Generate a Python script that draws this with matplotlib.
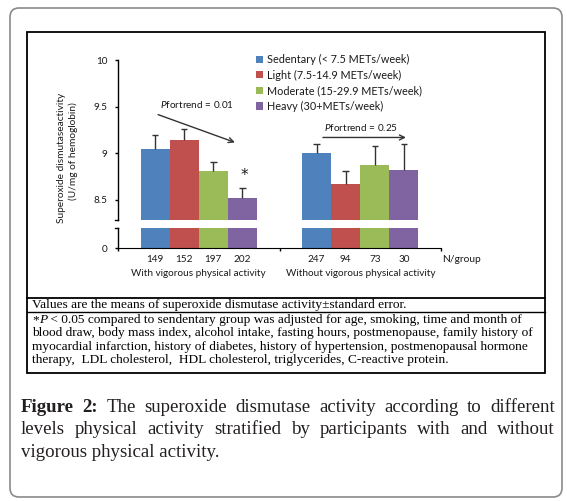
import matplotlib
matplotlib.use("Agg")
import matplotlib.pyplot as plt
from matplotlib.patches import FancyBboxPatch, Rectangle, Patch
import matplotlib.transforms as mtransforms

W, H, DPI = 567, 501, 100

# ---------------- data ----------------
groups = ["With vigorous physical activity", "Without vigorous physical activity"]
levels = ["Sedentary (< 7.5 METs/week)", "Light (7.5-14.9 METs/week)",
          "Moderate (15-29.9 METs/week)", "Heavy (30+METs/week)"]
colors = ["#4F81BD", "#C0504D", "#9BBB59", "#8064A2"]
means_with = [9.05, 9.14, 8.81, 8.52]
se_with = [0.15, 0.12, 0.10, 0.11]
means_without = [9.00, 8.67, 8.88, 8.82]
se_without = [0.10, 0.14, 0.20, 0.28]
n_with = [149, 152, 197, 202]
n_without = [247, 94, 73, 30]
yticks = [8.5, 9, 9.5, 10]
ytick_labels = ["8.5", "9", "9.5", "10"]
trend_p = ["0.01", "0.25"]
ylabel_lines = ["Superoxide dismutaseactivity", "(U/mg of hemoglobin)"]

note1 = "Values are the means of superoxide dismutase activity\u00b1standard error."
note2_lines = [
    "*P < 0.05 compared to sendentary group was adjusted for age, smoking, time and month of",
    "blood draw, body mass index, alcohol intake, fasting hours, postmenopause, family history of",
    "myocardial infarction, history of diabetes, history of hypertension, postmenopausal hormone",
    "therapy,  LDL cholesterol,  HDL cholesterol, triglycerides, C-reactive protein.",
]
caption_lines = [
    "Figure 2: The superoxide dismutase activity according to different",
    "levels physical activity stratified by participants with and without",
    "vigorous physical activity.",
]

CH_FONT = "Lato"
SERIF = "Liberation Serif"
TXT = "#1a1a1a"
plt.rcParams["mathtext.fontset"] = "custom"
plt.rcParams["mathtext.it"] = "Lato:italic"
plt.rcParams["mathtext.rm"] = "Lato"

fig = plt.figure(figsize=(W / DPI, H / DPI), dpi=DPI)
fig.patch.set_facecolor("white")

def fx(px):
    return px / W

def fy(py):
    return 1 - py / H

# background axes in pixel coordinates
bg = fig.add_axes([0, 0, 1, 1], zorder=-1)
bg.set_xlim(0, W)
bg.set_ylim(H, 0)
bg.axis("off")
bg.patch.set_visible(False)

bg.add_patch(FancyBboxPatch((10, 8), 552, 489, boxstyle="round,pad=0,rounding_size=9",
                            ec="#8a8a8a", fc="white", lw=1.2))
bg.add_patch(Rectangle((27, 32), 518, 341, fill=False, ec="black", lw=1.3))
bg.plot([27, 545], [298, 298], color="black", lw=1.3)
bg.plot([27, 545], [312, 312], color="black", lw=1.0)

# ---------------- chart axes ----------------
x0p, x1p = 118, 441
ax_up = fig.add_axes([fx(x0p), fy(220), (x1p - x0p) / W, (220 - 60) / H])
ax_lo = fig.add_axes([fx(x0p), fy(248), (x1p - x0p) / W, 20 / H])
for a in (ax_up, ax_lo):
    a.patch.set_visible(False)
    a.set_xlim(0, 2)
    for s in ("top", "right"):
        a.spines[s].set_visible(False)
    a.spines["left"].set_linewidth(1.0)
ax_up.spines["bottom"].set_visible(False)
ax_up.set_ylim(8.5 - 20 / 93.33, 10)
ax_lo.set_ylim(0, 1)

bw = 0.18
cap = 0.02
for g, (means, ses) in enumerate([(means_with, se_with), (means_without, se_without)]):
    for i, (m, s) in enumerate(zip(means, ses)):
        x = g + 0.5 + (i - 1.5) * bw
        for a in (ax_up, ax_lo):
            a.bar(x, m, bw, color=colors[i], lw=0)
        ax_up.vlines(x, m, m + s, color="#333333", lw=1.0, zorder=3)
        ax_up.hlines(m + s, x - cap, x + cap, color="#333333", lw=1.0, zorder=3)

# asterisk on heavy (with vigorous) group
xa = 0 + 0.5 + 1.5 * bw
ax_up.text(xa + 0.01, means_with[3] + se_with[3] + 0.13, "*", ha="center", va="center",
           fontsize=11, family="DejaVu Sans", color=TXT)

ax_up.set_xticks([])
ax_up.set_yticks(yticks)
ax_up.set_yticklabels(ytick_labels)
ax_up.tick_params(axis="y", direction="out", length=2.5, width=1, pad=5,
                  labelsize=7.2, labelcolor=TXT)
ax_lo.set_yticks([0])
ax_lo.set_yticklabels(["0"])
ax_lo.set_xticks([0, 1, 2])
ax_lo.set_xticklabels([])
ax_lo.tick_params(axis="y", direction="out", length=2.5, width=1, pad=5,
                  labelsize=7.2, labelcolor=TXT)
ax_lo.tick_params(axis="x", direction="out", length=2.5, width=1)
for lab in ax_up.get_yticklabels() + ax_lo.get_yticklabels():
    lab.set_family(CH_FONT)

# axis break hooks
hk = 3 / (x1p - x0p)
ax_up.plot([-hk, 0], [0, 0], transform=ax_up.transAxes, color="black", lw=1, clip_on=False)
ax_lo.plot([-hk, 0], [1, 1], transform=ax_lo.transAxes, color="black", lw=1, clip_on=False)

# N labels and group labels
tb = mtransforms.blended_transform_factory(ax_lo.transData, ax_lo.transAxes)
for g, ns in enumerate([n_with, n_without]):
    for i, n in enumerate(ns):
        x = g + 0.5 + (i - 1.5) * bw
        ax_lo.text(x, -0.55, str(n), transform=tb, ha="center", va="center",
                   fontsize=7.2, family=CH_FONT, color=TXT)
    ax_lo.text(g + 0.5, -1.25, groups[g], transform=tb, ha="center", va="center",
               fontsize=7.2, family=CH_FONT, color=TXT)
ax_lo.text(2.01, -0.55, "N/group", transform=tb, ha="left", va="center",
           fontsize=7.4, family=CH_FONT, color=TXT)

# trend arrows
arrow_kw = dict(arrowstyle="->", color="#333333", lw=1.0, shrinkA=0, shrinkB=0,
                mutation_scale=9)
ax_up.annotate("", xy=(0.724, 9.117), xytext=(0.248, 9.415), arrowprops=arrow_kw,
               annotation_clip=False)
ax_up.annotate("", xy=(1.783, 9.17), xytext=(1.269, 9.17), arrowprops=arrow_kw,
               annotation_clip=False)
ax_up.text(0.489, 9.52, r"$\mathit{P}$fortrend = " + trend_p[0], ha="center", va="center",
           fontsize=7.2, family=CH_FONT, color=TXT)
ax_up.text(1.508, 9.277, r"$\mathit{P}$fortrend = " + trend_p[1], ha="center", va="center",
           fontsize=7.2, family=CH_FONT, color=TXT)

# y label
bg.text(62, 158, ylabel_lines[0], rotation=90, ha="center", va="center",
        fontsize=7.3, family=CH_FONT, color=TXT)
bg.text(73, 151, ylabel_lines[1], rotation=90, ha="center", va="center",
        fontsize=7.3, family=CH_FONT, color=TXT)

# legend
handles = [Patch(facecolor=c, edgecolor="none") for c in colors]
fig.legend(handles, levels, loc="upper left", bbox_to_anchor=(fx(256), fy(54)),
           frameon=False, handlelength=0.65, handleheight=0.65,
           handletextpad=0.35, labelspacing=0.42, borderpad=0, borderaxespad=0,
           prop={"family": CH_FONT, "size": 7.8})
for t in fig.legends[0].get_texts():
    t.set_color(TXT)

# ---------------- text helpers ----------------
renderer = fig.canvas.get_renderer()

def twidth(s, **kw):
    t = bg.text(0, 0, s, **kw)
    w = t.get_window_extent(renderer).width
    t.remove()
    return w

def runs_line(runs, x0, y, base):
    """Place a sequence of styled runs left to right on a common baseline."""
    x = x0
    for t, p in runs:
        kw = {**base, **p}
        bg.text(x, y, t, ha="left", va="baseline", **kw)
        x += twidth(t.replace(" ", "\u00a0"), **kw)

def justified(words, x0, x1, y, base):
    """words: list of (text, extra props); spread between x0 and x1."""
    widths = [twidth(t, **{**base, **p}) for t, p in words]
    gap = (x1 - x0 - sum(widths)) / (len(words) - 1)
    x = x0
    for (t, p), wd in zip(words, widths):
        bg.text(x, y, t, ha="left", va="baseline", **{**base, **p})
        x += wd + gap

tbase = dict(family=SERIF, fontsize=9.6, color="black")
bg.text(32, 308, note1, ha="left", va="baseline", **tbase)
for k, line in enumerate(note2_lines):
    y = 323 + k * 13.3
    if k == 0:
        runs_line([("*", {}), ("P", {"style": "italic"}), (line[2:], {})], 32, y, tbase)
    else:
        bg.text(32, y, line, ha="left", va="baseline", **tbase)

cbase = dict(family=SERIF, fontsize=13.6, color="#231f20")
for k, line in enumerate(caption_lines):
    y = 412 + k * 22.5
    words = [(w, {}) for w in line.split(" ")]
    if k == 0:
        words[0] = ("Figure", {"weight": "bold"})
        words[1] = ("2:", {"weight": "bold"})
    if k < 2:
        justified(words, 21, 555, y, cbase)
    else:
        bg.text(21, y, line, ha="left", va="baseline", **cbase)

fig.savefig("out.png", dpi=DPI)
